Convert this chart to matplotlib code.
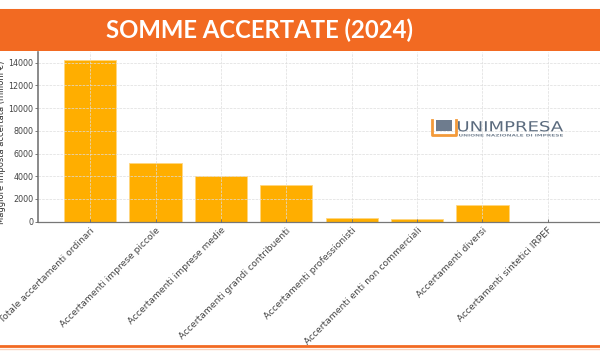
import matplotlib
matplotlib.use('Agg')
import matplotlib.pyplot as plt
from matplotlib.patches import Rectangle, PathPatch
from matplotlib.lines import Line2D
from matplotlib.textpath import TextPath
from matplotlib.font_manager import FontProperties
from matplotlib.transforms import Affine2D, IdentityTransform

# categorie e valori (milioni di euro)
categorie = ['Totale accertamenti ordinari', 'Accertamenti imprese piccole',
             'Accertamenti imprese medie', 'Accertamenti grandi contribuenti',
             'Accertamenti professionisti', 'Accertamenti enti non commerciali',
             'Accertamenti diversi', 'Accertamenti sintetici IRPEF']
valori = [14200, 5130, 4010, 3220, 340, 210, 1460, 10]

titolo = 'SOMME ACCERTATE (2024)'
ylabel = 'Maggiore imposta accertata (milioni €)'

arancio = '#F26A22'
giallo = '#FFAE00'

W, H = 600, 357
fig = plt.figure(figsize=(6, 3.57), dpi=100)
ax = fig.add_axes([38/W, 1 - 221.7/H, 1 - 38/W, (221.7 - 52.3)/H])

x = list(range(len(categorie)))
ax.bar(x, valori, width=0.8, color=giallo, edgecolor='#FFD680', linewidth=0.6, zorder=1)
ax.set_xlim(-0.8, 7.8)
ax.set_ylim(0, max(valori) * 1.05)
ax.set_yticks(range(0, 14001, 2000))
ax.set_xticks(x)
ax.set_xticklabels(categorie, rotation=45, ha='right', rotation_mode='anchor',
                   fontsize=6.6, color='#444444')
ax.tick_params(axis='y', labelsize=5.8, labelcolor='#444444', length=2, width=0.6,
               color='#666666', pad=1.5)
ax.tick_params(axis='x', length=2, width=0.6, color='#666666', direction='in', pad=3)
ax.set_ylabel(ylabel, fontsize=6.0, color='#333333')
ax.yaxis.set_label_coords(-32/562, 0.47)
ax.grid(True, color='#DDDDDD', linestyle='--', linewidth=0.5, zorder=2)
ax.set_axisbelow(False)
for s in ['top', 'right']:
    ax.spines[s].set_visible(False)
ax.spines['left'].set_color('#777777')
ax.spines['left'].set_linewidth(1.2)
ax.spines['bottom'].set_color('#777777')
ax.spines['bottom'].set_linewidth(0.9)

# fascia del titolo
fig.patches.append(Rectangle((0, 1 - 51/H), 1, 42/H, transform=fig.transFigure,
                             facecolor=arancio, edgecolor='none', zorder=5))
fig.lines.append(Line2D([0, 1], [1 - 9/H, 1 - 9/H], transform=fig.transFigure,
                        color='#F8B892', linewidth=0.8, zorder=5))
fig.text(260/W, 1 - 30/H, titolo, color='white', fontsize=17.2, fontweight='bold',
         family='Lato', ha='center', va='center', zorder=6)

# linea in basso
fig.lines.append(Line2D([0, 1], [1 - 346/H, 1 - 346/H], transform=fig.transFigure,
                        color=arancio, linewidth=2.0, zorder=5))
fig.lines.append(Line2D([0, 1], [1 - 348.5/H, 1 - 348.5/H], transform=fig.transFigure,
                        color='#FBD3BC', linewidth=1.0, zorder=5))


# logo UNIMPRESA (coordinate in pixel, origine in alto a sinistra)
def fx(px):
    return px / W


def fy(py):
    return 1 - py / H


def testo_box(s, x0, y0, x1, y1, color, weight='normal'):
    # testo adattato a un riquadro in pixel
    tp = TextPath((0, 0), s, size=10, prop=FontProperties(family='DejaVu Sans', weight=weight))
    bb = tp.get_extents()
    sx = (x1 - x0) / bb.width
    sy = (y1 - y0) / bb.height
    tr = Affine2D().translate(-bb.x0, -bb.y0).scale(sx, sy).translate(x0, H - y1) + IdentityTransform()
    fig.patches.append(PathPatch(tp, transform=tr, facecolor=color, edgecolor='none', zorder=3))


fig.lines.append(Line2D([fx(432), fx(432), fx(456), fx(456)], [fy(120), fy(135), fy(135), fy(120)],
                        transform=fig.transFigure, color='#F39A3A', linewidth=2.0, zorder=3))
fig.patches.append(Rectangle((fx(436), fy(131)), 16/W, 11/H, transform=fig.transFigure,
                             facecolor='#6E7C8E', edgecolor='none', zorder=3))
testo_box('UNIMPRESA', 458, 121, 563, 131.5, '#5B6B7E')
testo_box('UNIONE NAZIONALE DI IMPRESE', 459, 134, 563, 136.5, '#7A8796', weight='bold')

fig.savefig('out.png', dpi=100)
